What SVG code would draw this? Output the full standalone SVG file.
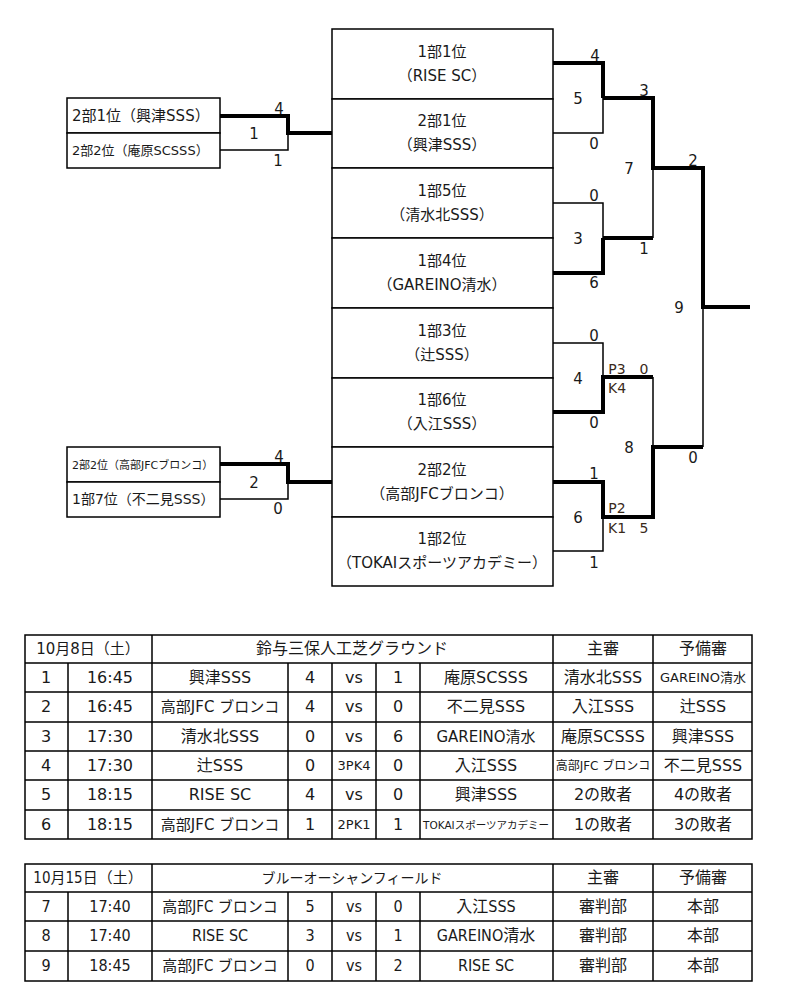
<svg xmlns="http://www.w3.org/2000/svg" width="800" height="999" viewBox="0 0 800 999">
<style>
text{font-family:"DejaVu Sans","Noto Sans CJK JP",sans-serif;fill:#1a1a1a;text-anchor:middle}
.cell{fill:#fff;stroke:#000;stroke-width:1.5}
.t16{font-size:16px}
.t15{font-size:15px}
.t14{font-size:14px}
.t13{font-size:13px}
.t12{font-size:12px}
.t11{font-size:11px}
.t10{font-size:10.5px}
.tl{text-anchor:start}
.thin{fill:none;stroke:#000;stroke-width:1.5}
.thick{fill:none;stroke:#000;stroke-width:4}
.grid{stroke:#000;stroke-width:1.5;fill:none}
.num{font-size:15px}
.pk{font-size:14px;fill:#3a2a1a}
#table2 text{font-family:"DejaVu Sans Condensed","Noto Sans CJK JP",sans-serif}
</style>
<rect width="800" height="999" fill="#fff"/>

<g id="connectors">
  <path class="thick" d="M220,116 H288 V133 H332"/>
  <path class="thin" d="M220,150 H288 V133"/>
  <path class="thick" d="M220,464 H288 V482 H332"/>
  <path class="thin" d="M220,499 H288 V482"/>
  <path class="thick" d="M553,63 H603 V98"/>
  <path class="thin" d="M553,133 H603 V98"/>
  <path class="thin" d="M553,203 H603 V238"/>
  <path class="thick" d="M553,273 H603 V238"/>
  <path class="thick" d="M603,98 H653 V168 H703 V307 H750"/>
  <path class="thin" d="M653,168 V238"/>
  <path class="thick" d="M603,238 H653"/>
  <path class="thin" d="M553,343 H603 V377"/>
  <path class="thick" d="M553,412 H603 V377 H653"/>
  <path class="thin" d="M653,377 V447"/>
  <path class="thick" d="M553,482 H603 V517 H653 V447 H703"/>
  <path class="thin" d="M553,551 H603 V517"/>
  <path class="thin" d="M703,307 V447"/>
</g>

<g id="seed-column">
  <g id="s1"><rect class="cell" x="332" y="29" width="221" height="70"/><text class="t15" x="442" y="57">1部1位</text><text class="t15" x="442" y="81">（RISE SC）</text></g>
  <g id="s2"><rect class="cell" x="332" y="99" width="221" height="69"/><text class="t15" x="442" y="126">2部1位</text><text class="t15" x="442" y="150">（興津SSS）</text></g>
  <g id="s3"><rect class="cell" x="332" y="168" width="221" height="70"/><text class="t15" x="442" y="196">1部5位</text><text class="t15" x="442" y="220">（清水北SSS）</text></g>
  <g id="s4"><rect class="cell" x="332" y="238" width="221" height="70"/><text class="t15" x="442" y="266">1部4位</text><text class="t15" x="442" y="290">（GAREINO清水）</text></g>
  <g id="s5"><rect class="cell" x="332" y="308" width="221" height="70"/><text class="t15" x="442" y="336">1部3位</text><text class="t15" x="442" y="360">（辻SSS）</text></g>
  <g id="s6"><rect class="cell" x="332" y="378" width="221" height="69"/><text class="t15" x="442" y="405">1部6位</text><text class="t15" x="442" y="429">（入江SSS）</text></g>
  <g id="s7"><rect class="cell" x="332" y="447" width="221" height="70"/><text class="t15" x="442" y="475">2部2位</text><text class="t15" x="442" y="499">（高部JFCブロンコ）</text></g>
  <g id="s8"><rect class="cell" x="332" y="517" width="221" height="69"/><text class="t15" x="442" y="544">1部2位</text><text class="t15" x="442" y="568">（TOKAIスポーツアカデミー）</text></g>
</g>

<g id="pre1">
  <rect class="cell" x="67" y="98" width="153" height="35"/>
  <rect class="cell" x="67" y="133" width="153" height="35"/>
  <text class="t15 tl" x="72" y="121">2部1位（興津SSS）</text>
  <text class="t13 tl" x="72" y="155">2部2位（庵原SCSSS）</text>
</g>
<g id="pre2">
  <rect class="cell" x="67" y="447" width="153" height="35"/>
  <rect class="cell" x="67" y="482" width="153" height="35"/>
  <text class="t11 tl" x="72" y="469">2部2位（高部JFCブロンコ）</text>
  <text class="t14 tl" x="72" y="504">1部7位（不二見SSS）</text>
</g>

<g id="scores">
  <text class="num" x="279" y="114">4</text>
  <text class="num" x="254" y="139">1</text>
  <text class="num" x="278" y="166">1</text>
  <text class="num" x="279" y="462">4</text>
  <text class="num" x="254" y="488">2</text>
  <text class="num" x="278" y="514">0</text>
  <text class="num" x="595" y="61">4</text>
  <text class="num" x="578" y="104">5</text>
  <text class="num" x="594" y="149">0</text>
  <text class="num" x="644" y="96">3</text>
  <text class="num" x="629" y="174">7</text>
  <text class="num" x="693" y="166">2</text>
  <text class="num" x="594" y="201">0</text>
  <text class="num" x="578" y="244">3</text>
  <text class="num" x="594" y="288">6</text>
  <text class="num" x="644" y="254">1</text>
  <text class="num" x="679" y="313">9</text>
  <text class="num" x="594" y="341">0</text>
  <text class="num" x="578" y="384">4</text>
  <text class="pk" x="617" y="374">P3</text>
  <text class="pk" x="644" y="374">0</text>
  <text class="pk" x="617" y="393">K4</text>
  <text class="num" x="594" y="428">0</text>
  <text class="num" x="629" y="453">8</text>
  <text class="num" x="693" y="463">0</text>
  <text class="num" x="594" y="479">1</text>
  <text class="num" x="578" y="523">6</text>
  <text class="pk" x="617" y="513">P2</text>
  <text class="pk" x="617" y="533">K1</text>
  <text class="pk" x="644" y="533">5</text>
  <text class="num" x="594" y="568">1</text>
</g>

<g id="table1">
  <rect class="grid" x="25" y="635" width="727" height="204"/>
  <path class="grid" d="M25,663H752 M25,692H752 M25,722H752 M25,751H752 M25,780H752 M25,810H752"/>
  <path class="grid" d="M68,663V839 M152,635V839 M288,663V839 M332,663V839 M376,663V839 M420,663V839 M553,635V839 M653,635V839"/>
  <text class="t15" x="88" y="654">10月8日（土）</text>
  <text class="t16" x="352" y="654">鈴与三保人工芝グラウンド</text>
  <text class="t16" x="603" y="654">主審</text>
  <text class="t16" x="703" y="654">予備審</text>
  <text class="t16" x="46" y="683">1</text><text class="t16" x="110" y="683">16:45</text><text class="t16" x="220" y="683">興津SSS</text><text class="t16" x="310" y="683">4</text><text class="t16" x="354" y="683">vs</text><text class="t16" x="398" y="683">1</text><text class="t16" x="486" y="683">庵原SCSSS</text><text class="t16" x="603" y="683">清水北SSS</text><text class="t13" x="703" y="682">GAREINO清水</text>
  <text class="t16" x="46" y="712">2</text><text class="t16" x="110" y="712">16:45</text><text class="t15" x="220" y="712">高部JFC ブロンコ</text><text class="t16" x="310" y="712">4</text><text class="t16" x="354" y="712">vs</text><text class="t16" x="398" y="712">0</text><text class="t16" x="486" y="712">不二見SSS</text><text class="t16" x="603" y="712">入江SSS</text><text class="t16" x="703" y="712">辻SSS</text>
  <text class="t16" x="46" y="742">3</text><text class="t16" x="110" y="742">17:30</text><text class="t16" x="220" y="742">清水北SSS</text><text class="t16" x="310" y="742">0</text><text class="t16" x="354" y="742">vs</text><text class="t16" x="398" y="742">6</text><text class="t15" x="486" y="742">GAREINO清水</text><text class="t16" x="603" y="742">庵原SCSSS</text><text class="t16" x="703" y="742">興津SSS</text>
  <text class="t16" x="46" y="771">4</text><text class="t16" x="110" y="771">17:30</text><text class="t16" x="220" y="771">辻SSS</text><text class="t16" x="310" y="771">0</text><text class="t13" x="354" y="770">3PK4</text><text class="t16" x="398" y="771">0</text><text class="t16" x="486" y="771">入江SSS</text><text class="t12" x="603" y="770">高部JFC ブロンコ</text><text class="t16" x="703" y="771">不二見SSS</text>
  <text class="t16" x="46" y="800">5</text><text class="t16" x="110" y="800">18:15</text><text class="t16" x="220" y="800">RISE SC</text><text class="t16" x="310" y="800">4</text><text class="t16" x="354" y="800">vs</text><text class="t16" x="398" y="800">0</text><text class="t16" x="486" y="800">興津SSS</text><text class="t16" x="603" y="800">2の敗者</text><text class="t16" x="703" y="800">4の敗者</text>
  <text class="t16" x="46" y="830">6</text><text class="t16" x="110" y="830">18:15</text><text class="t15" x="220" y="830">高部JFC ブロンコ</text><text class="t16" x="310" y="830">1</text><text class="t13" x="354" y="829">2PK1</text><text class="t16" x="398" y="830">1</text><text class="t10" x="486" y="829">TOKAIスポーツアカデミー</text><text class="t16" x="603" y="830">1の敗者</text><text class="t16" x="703" y="830">3の敗者</text>
</g>

<g id="table2">
  <rect class="grid" x="25" y="864" width="727" height="117"/>
  <path class="grid" d="M25,892H752 M25,921H752 M25,951H752"/>
  <path class="grid" d="M68,892V981 M152,864V981 M288,892V981 M332,892V981 M376,892V981 M420,892V981 M553,864V981 M653,864V981"/>
  <text class="t15" x="88" y="883">10月15日（土）</text>
  <text class="t14" x="352" y="883">ブルーオーシャンフィールド</text>
  <text class="t16" x="603" y="883">主審</text>
  <text class="t16" x="703" y="883">予備審</text>
  <text class="t16" x="46" y="912">7</text><text class="t16" x="110" y="912">17:40</text><text class="t15" x="220" y="912">高部JFC ブロンコ</text><text class="t16" x="310" y="912">5</text><text class="t16" x="354" y="912">vs</text><text class="t16" x="398" y="912">0</text><text class="t16" x="486" y="912">入江SSS</text><text class="t16" x="603" y="912">審判部</text><text class="t16" x="703" y="912">本部</text>
  <text class="t16" x="46" y="941">8</text><text class="t16" x="110" y="941">17:40</text><text class="t16" x="220" y="941">RISE SC</text><text class="t16" x="310" y="941">3</text><text class="t16" x="354" y="941">vs</text><text class="t16" x="398" y="941">1</text><text class="t16" x="486" y="941">GAREINO清水</text><text class="t16" x="603" y="941">審判部</text><text class="t16" x="703" y="941">本部</text>
  <text class="t16" x="46" y="971">9</text><text class="t16" x="110" y="971">18:45</text><text class="t15" x="220" y="971">高部JFC ブロンコ</text><text class="t16" x="310" y="971">0</text><text class="t16" x="354" y="971">vs</text><text class="t16" x="398" y="971">2</text><text class="t16" x="486" y="971">RISE SC</text><text class="t16" x="603" y="971">審判部</text><text class="t16" x="703" y="971">本部</text>
</g>
</svg>
